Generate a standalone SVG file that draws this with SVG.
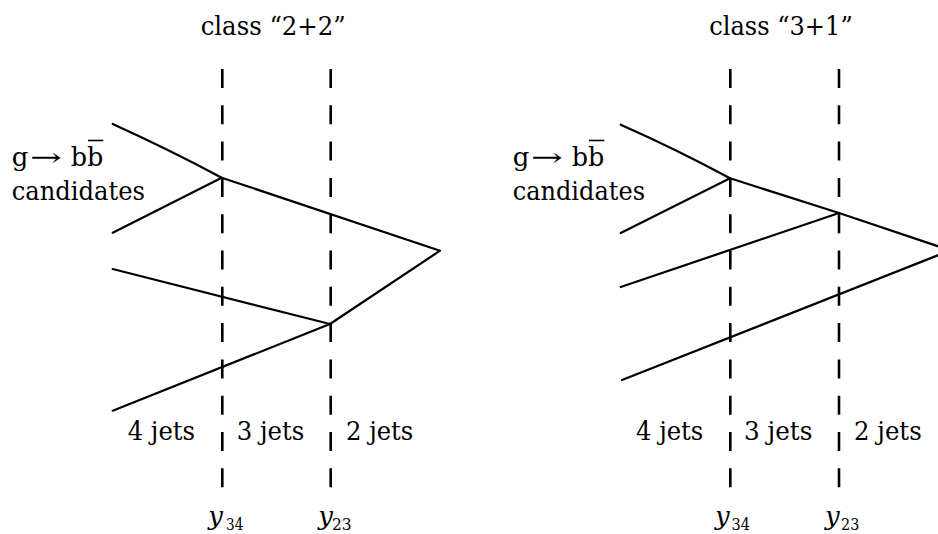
<svg xmlns="http://www.w3.org/2000/svg" width="938" height="534" viewBox="0 0 938 534">
<style>
text{font-family:'DejaVu Serif',serif;font-size:26px;fill:#000}
.it{font-style:italic}
.sub{font-size:16px}
.dash{stroke:#000;stroke-width:2.6;stroke-dasharray:19 17.3;fill:none}
.ln{stroke:#000;stroke-width:2.2;fill:none;stroke-linecap:round;stroke-linejoin:round}
.bar{stroke:#000;stroke-width:1.6}
</style>
<rect width="938" height="534" fill="#fff"/>

<g id="panel-2plus2">
  <g id="title-left"><text x="200.7" y="35" textLength="145" lengthAdjust="spacingAndGlyphs">class “2+2”</text></g>
  <g id="label-left">
    <text x="11.7" y="166">g</text>
    <text x="30" y="166" textLength="31.7" lengthAdjust="spacingAndGlyphs">→</text>
    <text x="70.7" y="166" textLength="32.6" lengthAdjust="spacingAndGlyphs">bb</text>
    <line class="bar" x1="88" y1="140.5" x2="103.3" y2="140.5"/>
    <text x="11.7" y="200" textLength="133.3" lengthAdjust="spacingAndGlyphs">candidates</text>
  </g>
  <g id="jets-left">
    <text x="127.7" y="439.5" textLength="67.3" lengthAdjust="spacingAndGlyphs">4 jets</text>
    <text x="236.7" y="439.5" textLength="67.6" lengthAdjust="spacingAndGlyphs">3 jets</text>
    <text x="346" y="439.5" textLength="67.3" lengthAdjust="spacingAndGlyphs">2 jets</text>
  </g>
  <g id="cuts-left">
    <text class="it" x="208.3" y="525">y</text><text class="sub" x="226" y="530" textLength="17.3" lengthAdjust="spacingAndGlyphs">34</text>
    <text class="it" x="318.3" y="525">y</text><text class="sub" x="332" y="530" textLength="19.7" lengthAdjust="spacingAndGlyphs">23</text>
  </g>
</g>

<g id="panel-3plus1">
  <g id="title-right"><text x="709.3" y="34.5" textLength="143.4" lengthAdjust="spacingAndGlyphs">class “3+1”</text></g>
  <g id="label-right">
    <text x="512.7" y="166">g</text>
    <text x="531" y="166" textLength="31.7" lengthAdjust="spacingAndGlyphs">→</text>
    <text x="571.7" y="166" textLength="32.6" lengthAdjust="spacingAndGlyphs">bb</text>
    <line class="bar" x1="589" y1="140.5" x2="604.3" y2="140.5"/>
    <text x="512.7" y="200" textLength="132.3" lengthAdjust="spacingAndGlyphs">candidates</text>
  </g>
  <g id="jets-right">
    <text x="636" y="439.5" textLength="67.3" lengthAdjust="spacingAndGlyphs">4 jets</text>
    <text x="744" y="439.5" textLength="68.3" lengthAdjust="spacingAndGlyphs">3 jets</text>
    <text x="854" y="439.5" textLength="67.7" lengthAdjust="spacingAndGlyphs">2 jets</text>
  </g>
  <g id="cuts-right">
    <text class="it" x="715" y="525">y</text><text class="sub" x="731.5" y="530" textLength="18.5" lengthAdjust="spacingAndGlyphs">34</text>
    <text class="it" x="825" y="525">y</text><text class="sub" x="841" y="530" textLength="18.3" lengthAdjust="spacingAndGlyphs">23</text>
  </g>
</g>

<g id="connectors">
  <line class="dash" x1="222.3" y1="69" x2="222.3" y2="488"/>
  <line class="dash" x1="330.7" y1="69" x2="330.7" y2="488"/>
  <line class="dash" x1="730.3" y1="69" x2="730.3" y2="488"/>
  <line class="dash" x1="839" y1="69" x2="839" y2="488"/>

  <path class="ln" d="M112.7,124 Q170,150 221.7,177.7"/>
  <path class="ln" d="M112.7,232.7 L221.7,177.7 L440,250.7 L330,324 L112.7,269"/>
  <path class="ln" d="M112.7,410.7 L330,324"/>

  <path class="ln" d="M620.7,124.7 Q678,150 730,178.3"/>
  <path class="ln" d="M620.7,233 L730,178.3 L839,213 L940,246.9"/>
  <path class="ln" d="M620.7,287 L839,213"/>
  <path class="ln" d="M622,380 L940,254.5"/>
</g>
</svg>
